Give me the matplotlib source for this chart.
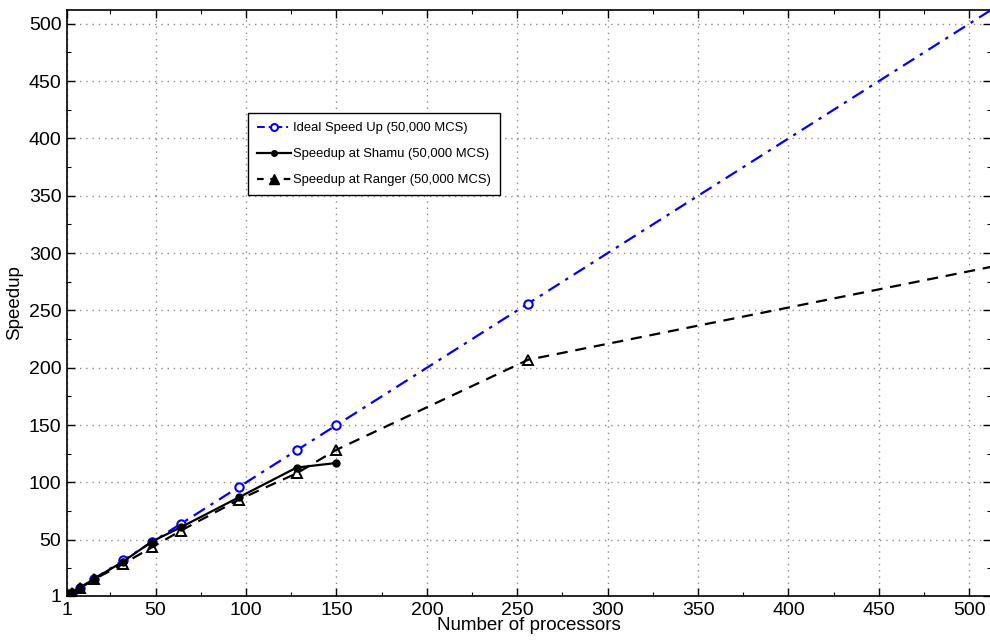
import matplotlib
matplotlib.use("Agg")
import matplotlib.pyplot as plt
from matplotlib.lines import Line2D
from matplotlib.ticker import FixedLocator
from matplotlib import font_manager

plt.rcParams['font.family'] = ['Liberation Sans', 'DejaVu Sans']
names = {f.name for f in font_manager.fontManager.ttflist}
narrow = 'Liberation Sans Narrow' in names

procs_ideal = [1, 2, 4, 8, 16, 32, 48, 64, 96, 128, 150, 256, 512]
speed_ideal = [1, 2, 4, 8, 16, 32, 48, 64, 96, 128, 150, 256, 512]

procs_shamu = [1, 2, 4, 8, 16, 32, 48, 64, 96, 128, 150]
speed_shamu = [1, 2, 4, 8, 16, 31, 48.5, 61, 87, 113, 117]

procs_ranger = [1, 2, 4, 8, 16, 32, 48, 64, 96, 128, 150, 256, 512]
speed_ranger = [1, 2, 4, 7.8, 15.5, 29, 43.5, 58, 85, 108, 128.5, 207, 288]

xticks = [1, 50, 100, 150, 200, 250, 300, 350, 400, 450, 500]
yticks = [1, 50, 100, 150, 200, 250, 300, 350, 400, 450, 500]
minor_ticks = [25, 75, 125, 175, 225, 275, 325, 375, 425, 475]

labels = ['Ideal Speed Up (50,000 MCS)', 'Speedup at Shamu (50,000 MCS)',
          'Speedup at Ranger (50,000 MCS)']

fig = plt.figure(figsize=(9.9, 6.41), dpi=100)
ax = fig.add_axes([67/990, 45/641, (991-67)/990, (596-10)/641])

ax.plot(procs_ideal, speed_ideal, ls=(0, (6, 3, 1.5, 3)), color='#0000ff', lw=1.6,
        marker='o', ms=6, mfc='white', mec='#0000ff', mew=1.5, zorder=3,
        markevery=list(range(len(procs_ideal) - 1)))
ax.plot(procs_shamu, speed_shamu, '-', color='black', lw=1.6,
        marker='o', ms=5, mfc='black', mec='black', zorder=4)
ax.plot(procs_ranger, speed_ranger, ls=(0, (5, 3.5)), color='black', lw=1.6,
        marker='^', ms=7, mfc='none', mec='black', mew=1.4, zorder=4,
        markevery=list(range(len(procs_ranger) - 1)))

ax.set_xlim(1, 512)
ax.set_ylim(1, 512)
ax.xaxis.set_major_locator(FixedLocator(xticks))
ax.yaxis.set_major_locator(FixedLocator(yticks))
ax.xaxis.set_minor_locator(FixedLocator(minor_ticks))
ax.yaxis.set_minor_locator(FixedLocator(minor_ticks))
ax.set_xticklabels([str(t) for t in xticks])
ax.set_yticklabels([str(t) for t in yticks])
ax.tick_params(which='both', direction='in', top=True, right=True, labelsize=14)
ax.tick_params(which='major', length=6, width=1, pad=4)
ax.tick_params(which='minor', length=3, width=0.8)
ax.grid(True, which='major', linestyle=(0, (1, 3.5)), color='#8c8c8c', lw=1.0)
for s in ax.spines.values():
    s.set_linewidth(1.2)

ax.set_xlabel('Number of processors', fontsize=13.5, labelpad=-1)
ax.set_ylabel('Speedup', fontsize=13.5, labelpad=4)

handles = [
    Line2D([], [], ls=(0, (4, 2, 1, 2)), color='#0000ff', lw=1.4, marker='o', ms=5, mfc='white', mec='#0000ff', mew=1.5),
    Line2D([], [], ls='-', color='black', lw=1.6, marker='o', ms=4, mfc='black'),
    Line2D([], [], ls=(0, (3, 3)), color='black', lw=1.6, marker='^', ms=7, mfc='black', mec='black'),
]
if narrow:
    prop = {'family': ['Liberation Sans Narrow', 'Liberation Sans'], 'size': 11.5}
    hl, ls_, bp = 2.1, 0.8, 0.55
else:
    prop = {'size': 9.4}
    hl, ls_, bp = 2.6, 1.05, 0.7
leg = ax.legend(handles, labels, loc='upper left', bbox_to_anchor=(0.1955, 0.824),
                fancybox=False, edgecolor='black', framealpha=1,
                prop=prop,
                handlelength=hl, handletextpad=0.2, borderpad=bp, labelspacing=ls_,
                borderaxespad=0)
leg.get_frame().set_linewidth(1.0)

fig.savefig('out.png', dpi=100)
